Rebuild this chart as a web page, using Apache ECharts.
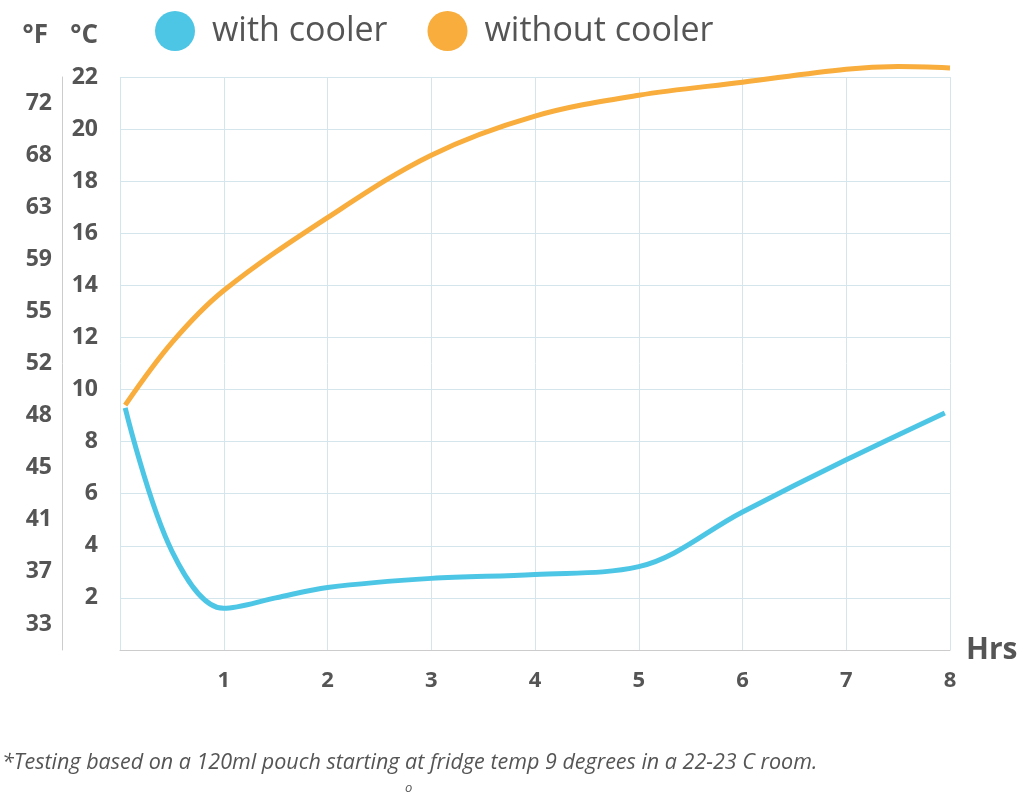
<!DOCTYPE html>
<html><head><meta charset="utf-8">
<script src="https://cdn.jsdelivr.net/npm/echarts@6/dist/echarts.min.js"></script>
<style>html,body{margin:0;padding:0;background:#fff}#c{width:1026px;height:800px}</style>
</head><body><div id="c"></div>
<script>
const hours = [0.05, 0.5, 1, 1.5, 2, 3, 4, 5, 6, 7, 7.95];
const withCooler = [9.3, 3.8, 1.6, 2.0, 2.4, 2.75, 2.9, 3.2, 5.3, 7.3, 9.1];
const hours2 = [0.05, 0.5, 1, 2, 3, 4, 5, 6, 7, 7.5, 8];
const withoutCooler = [9.4, 11.8, 13.8, 16.6, 19.0, 20.5, 21.3, 21.8, 22.3, 22.4, 22.35];
const fLabels = {1:'33',3:'37',5:'41',7:'45',9:'48',11:'52',13:'55',15:'59',17:'63',19:'68',21:'72'};
const xTicks = ['', '1','2','3','4','5','6','7','8'];
const gridC = '#d5e5ec', txt = '#555';
const chart = echarts.init(document.getElementById('c'));
chart.setOption({
  animation:false,
  grid:{left:120,right:76,top:77,bottom:150},
  legend:{top:6,left:150,itemWidth:40,itemHeight:40,itemGap:40,icon:'circle',
    textStyle:{fontSize:34,color:txt,fontFamily:'Open Sans',padding:[0,0,0,12]},
    data:['with cooler','without cooler']},
  xAxis:{type:'value',min:0,max:8,interval:1,
    axisLine:{show:true,lineStyle:{color:'#ccc',width:1}},axisTick:{show:false},
    splitLine:{show:true,lineStyle:{color:gridC}},
    axisLabel:{margin:20,fontSize:22,fontWeight:'bold',color:txt,fontFamily:'Open Sans',formatter:v=>xTicks[v]},
    name:'Hrs',nameLocation:'end',nameGap:16,nameTextStyle:{fontSize:30,fontWeight:'bold',color:txt,fontFamily:'Open Sans'}},
  yAxis:[
    {type:'value',min:0,max:22,interval:2,position:'left',
     axisLine:{show:false},axisTick:{show:false},
     splitLine:{show:true,lineStyle:{color:gridC}},
     axisLabel:{margin:22,fontSize:23,fontWeight:'bold',color:txt,fontFamily:'Open Sans',formatter:v=>v===0?'':v},
     name:'°C',nameGap:28,nameTextStyle:{fontSize:26,fontWeight:'bold',color:txt,align:'right',padding:[0,22,0,0],fontFamily:'Open Sans'}},
    {type:'value',min:0,max:22,interval:1,position:'left',offset:58,
     axisLine:{show:true,lineStyle:{color:'#ccc',width:1}},axisTick:{show:false},splitLine:{show:false},
     axisLabel:{margin:10,fontSize:23,fontWeight:'bold',color:txt,fontFamily:'Open Sans',formatter:v=>fLabels[v]||''},
     name:'°F',nameGap:28,nameTextStyle:{fontSize:26,fontWeight:'bold',color:txt,align:'right',padding:[0,14,0,0],fontFamily:'Open Sans'}}
  ],
  series:[
    {name:'with cooler',type:'line',smooth:0.35,symbol:'none',clip:false,color:'#4DC6E6',
     lineStyle:{width:5},data:hours.map((h,i)=>[h,withCooler[i]])},
    {name:'without cooler',type:'line',smooth:0.35,symbol:'none',clip:false,color:'#F8AD3C',
     lineStyle:{width:5},data:hours2.map((h,i)=>[h,withoutCooler[i]])}
  ],
  graphic:[
    {type:'text',left:2,top:752,style:{text:'*Testing based on a 120ml pouch starting at fridge temp 9 degrees in a 22-23 C room.',fontSize:21.5,fontStyle:'italic',fill:txt,fontFamily:'Open Sans'}},
    {type:'text',left:405,top:782,style:{text:'o',fontSize:13,fontStyle:'italic',fill:txt,fontFamily:'Open Sans'}}
  ]
});
</script></body></html>
